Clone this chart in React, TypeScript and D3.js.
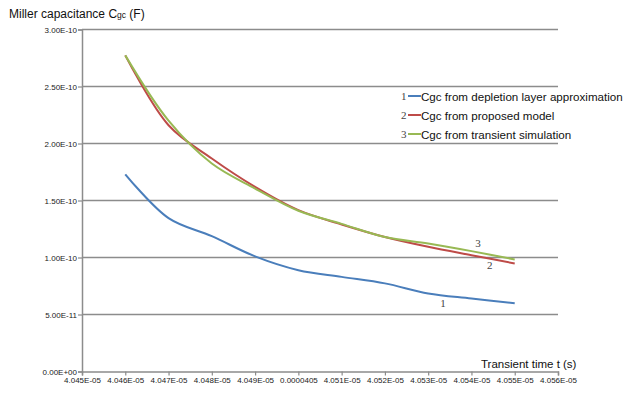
import React, { useRef, useEffect } from 'react';
import * as d3 from 'd3';

// transient time (s), one point per tick
const times = [4.046e-5, 4.047e-5, 4.048e-5, 4.049e-5, 4.05e-5, 4.051e-5, 4.052e-5, 4.053e-5, 4.054e-5, 4.055e-5];
const depletion = [1.73e-10, 1.345e-10, 1.187e-10, 1.01e-10, 0.889e-10, 0.83e-10, 0.773e-10, 0.685e-10, 0.641e-10, 0.598e-10];
const proposed = [2.773e-10, 2.16e-10, 1.868e-10, 1.619e-10, 1.415e-10, 1.29e-10, 1.18e-10, 1.094e-10, 1.02e-10, 0.948e-10];
const transient = [2.773e-10, 2.2e-10, 1.824e-10, 1.605e-10, 1.41e-10, 1.295e-10, 1.18e-10, 1.123e-10, 1.056e-10, 0.983e-10];

const xTicks = [4.045e-5, 4.046e-5, 4.047e-5, 4.048e-5, 4.049e-5, 4.05e-5, 4.051e-5, 4.052e-5, 4.053e-5, 4.054e-5, 4.055e-5, 4.056e-5];
const xTickLabels = ['4.045E-05', '4.046E-05', '4.047E-05', '4.048E-05', '4.049E-05', '0.0000405', '4.051E-05', '4.052E-05', '4.053E-05', '4.054E-05', '4.055E-05', '4.056E-05'];
const yTicks = [0, 0.5e-10, 1e-10, 1.5e-10, 2e-10, 2.5e-10, 3e-10];
const yTickLabels = ['0.00E+00', '5.00E-11', '1.00E-10', '1.50E-10', '2.00E-10', '2.50E-10', '3.00E-10'];

const seriesNames = ['Cgc from depletion layer approximation', 'Cgc from proposed model', 'Cgc from transient simulation'];
const seriesColors = ['#4a7ebb', '#be4b48', '#98b954'];

const sans = '"Liberation Sans", Arial, sans-serif';
const serif = '"Liberation Serif", "Times New Roman", serif';

export default function App() {
  const svgRef = useRef<SVGSVGElement>(null);

  useEffect(() => {
    const svg = d3.select(svgRef.current);
    svg.selectAll('*').remove();

    const x = d3.scaleLinear().domain([4.045e-5, 4.056e-5]).range([82, 558]);
    const y = d3.scaleLinear().domain([0, 3e-10]).range([371.5, 29.5]);

    svg.append('rect').attr('width', 626).attr('height', 393).attr('fill', '#fff');

    // gridlines
    svg.append('g')
      .selectAll('line')
      .data(yTicks.slice(1))
      .enter()
      .append('line')
      .attr('x1', x(4.045e-5))
      .attr('x2', x(4.056e-5))
      .attr('y1', d => y(d))
      .attr('y2', d => y(d))
      .attr('stroke', '#8c8c8c')
      .attr('stroke-width', 1.5);

    // y axis
    const yAxis = d3.axisLeft(y)
      .tickValues(yTicks)
      .tickFormat((d, i) => yTickLabels[i])
      .tickSize(4)
      .tickPadding(1);
    const gy = svg.append('g').attr('transform', `translate(${x(4.045e-5)},0)`).call(yAxis);
    gy.select('.domain').attr('stroke', '#8c8c8c').attr('stroke-width', 1.5);
    gy.selectAll('.tick line').attr('stroke', '#8c8c8c').attr('stroke-width', 1.2);
    gy.selectAll('.tick text')
      .attr('font-family', sans)
      .attr('font-size', 8)
      .attr('fill', '#222');

    // x axis
    const xAxis = d3.axisBottom(x)
      .tickValues(xTicks)
      .tickFormat((d, i) => xTickLabels[i])
      .tickSize(4)
      .tickPadding(2);
    const gx = svg.append('g').attr('transform', `translate(0,${y(0)})`).call(xAxis);
    gx.select('.domain').attr('stroke', '#8c8c8c').attr('stroke-width', 1.5);
    gx.selectAll('.tick line').attr('stroke', '#8c8c8c').attr('stroke-width', 1.2);
    gx.selectAll('.tick text')
      .attr('font-family', sans)
      .attr('font-size', 8)
      .attr('fill', '#222');

    // series lines
    const line = d3.line<number>()
      .x((d, i) => x(times[i]))
      .y(d => y(d))
      .curve(d3.curveCatmullRom.alpha(0.5));

    [depletion, proposed, transient].forEach((vals, k) => {
      svg.append('path')
        .datum(vals)
        .attr('d', line)
        .attr('fill', 'none')
        .attr('stroke', seriesColors[k])
        .attr('stroke-width', 2);
    });

    // curve number labels
    const curveLabels = [
      { t: '1', x: x(4.0533e-5) - 1, y: y(0.61e-10) + 5 },
      { t: '3', x: x(4.0539e-5) + 8, y: y(1.125e-10) + 4 },
      { t: '2', x: x(4.0542e-5) + 7, y: y(0.9e-10) },
    ];
    svg.append('g')
      .selectAll('text')
      .data(curveLabels)
      .enter()
      .append('text')
      .attr('x', d => d.x)
      .attr('y', d => d.y)
      .attr('font-family', serif)
      .attr('font-size', 11)
      .attr('fill', '#444')
      .text(d => d.t);

    // legend
    const lg = svg.append('g').attr('transform', 'translate(401,96)');
    seriesNames.forEach((name, i) => {
      const row = lg.append('g').attr('transform', `translate(0,${i * 19})`);
      row.append('text')
        .attr('x', 0)
        .attr('y', 4)
        .attr('font-family', serif)
        .attr('font-size', 11)
        .attr('fill', '#444')
        .text(String(i + 1));
      row.append('line')
        .attr('x1', 7)
        .attr('x2', 20)
        .attr('y1', 0)
        .attr('y2', 0)
        .attr('stroke', seriesColors[i])
        .attr('stroke-width', 2);
      row.append('text')
        .attr('x', 20)
        .attr('y', 4.5)
        .attr('font-family', sans)
        .attr('font-size', 11.6)
        .attr('fill', '#111')
        .text(name);
    });

    // axis titles
    const yt = svg.append('text')
      .attr('x', 9)
      .attr('y', 18)
      .attr('font-family', sans)
      .attr('font-size', 12)
      .attr('fill', '#111');
    yt.append('tspan').text('Miller capacitance C');
    yt.append('tspan').attr('font-size', 8.5).text('gc');
    yt.append('tspan').text(' (F)');

    svg.append('text')
      .attr('x', 481)
      .attr('y', 368)
      .attr('font-family', sans)
      .attr('font-size', 11.5)
      .attr('fill', '#111')
      .text('Transient time t (s)');
  }, []);

  return (
    <svg
      ref={svgRef}
      width={626}
      height={393}
      style={{ position: 'absolute', left: 0, top: 0, display: 'block' }}
    />
  );
}
